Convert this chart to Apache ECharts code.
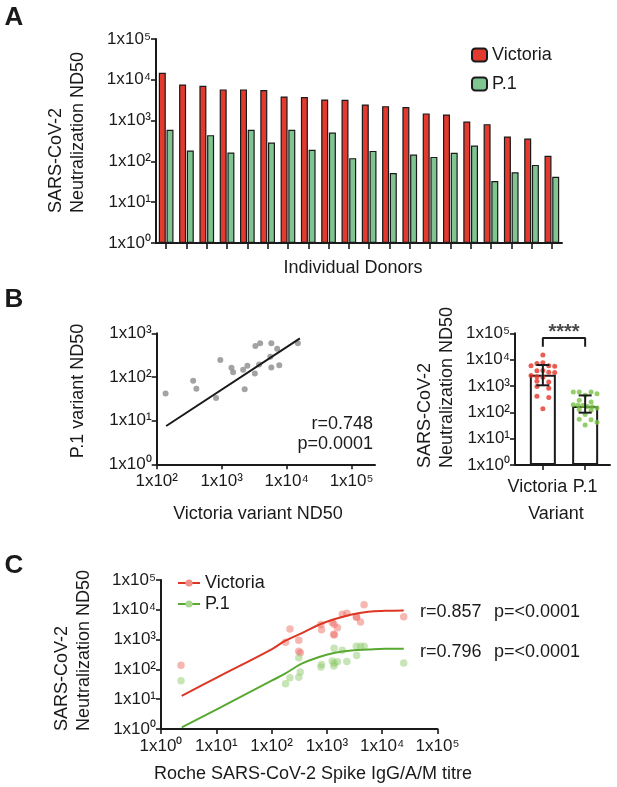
<!DOCTYPE html>
<html><head><meta charset="utf-8">
<script src="https://cdn.jsdelivr.net/npm/echarts@6/dist/echarts.min.js"></script>
<style>html,body{margin:0;padding:0;background:#fff}#c{width:617px;height:787px}</style>
</head><body><div id="c"></div>
<script>
// ---------- data ----------
const donors = ['D1','D2','D3','D4','D5','D6','D7','D8','D9','D10','D11','D12','D13','D14','D15','D16','D17','D18','D19','D20'];
const victoria = [14900, 7700, 7150, 5810, 5810, 5600, 3910, 3770, 3300, 3240, 2490, 2260, 2140, 1500, 1415, 952, 819, 408, 364, 137];
const p1 = [594, 185, 440, 165, 594, 290, 594, 192, 511, 120, 181, 52, 147, 129, 162, 245, 33, 54, 82, 42];
const rocheTitre = [4700, 2300, 1900, 24500, 3400, 3450, 4050, 1250, 1350, 780, 1550, 215, 800, 1330, 1360, 310, 179, 310, 330, 2.3];
// jitter columns of the dot plot
const victoriaCol = [0, 0, -1, 1, -2, 2, 0, -1, 1, 2, -2, -1, 0, -1, 1, -1, 1, -1, 1, 0];
const p1Col = [-1, -1.2, 0, 0.4, 1, -1, -2, -2, 2, 1, -0.4, 1, 2, -1, 1.2, 1, 0, -1, 0, 2];
const variants = ['Victoria', 'P.1'];
const barMeans = [2650, 175];
const errLow = [1060, 97];
const errHigh = [6240, 438];
const bracketLow = 31000, bracketHigh = 66000;
const scatterFit = [[140, 7.55], [16000, 768]];
const victoriaFit = [[2.37,12.9],[10,52],[100,470],[175,900],[400,1850],[700,3090],[1400,4900],[2800,6970],[5600,8570],[11200,9260],[24500,9550]];
const p1Fit = [[2.37,1.14],[10,4.5],[100,42],[175,72],[350,155],[700,257],[1400,360],[2800,430],[5600,464],[11200,490],[24500,490]];
const bTicks = [100, 1000, 10000, 100000];
const sup = ['\u2070','\u00b9','\u00b2','\u00b3','\u2074','\u2075'];

// ---------- helpers ----------
const font = "'Liberation Sans', Arial, Helvetica, sans-serif";
const ink = '#1a1a1a';
function powLabel(v){ const e = Math.round(Math.log10(v)); return '1x10' + sup[e]; }
const axLine = {show:true, onZero:false, lineStyle:{color:ink, width:2}};
const tickSt = {lineStyle:{color:ink, width:1.6}};
function logAxis(grid, min, max, extra){
  return Object.assign({
    type:'log', logBase:10, gridIndex:grid, min:min, max:max,
    axisLine:axLine,
    axisTick:Object.assign({show:true, length:5}, tickSt),
    axisLabel:{formatter:powLabel, fontSize:17, color:ink, fontFamily:font, margin:5, showMinLabel:true, showMaxLabel:true},
    splitLine:{show:false}
  }, extra||{});
}
function txt(x, y, text, o){
  o = o || {};
  const st = {text:text, fontSize:o.size||18, fontFamily:font, fontWeight:o.weight||'normal', fill:ink,
    align:o.align||'center', textAlign:o.align||'center', verticalAlign:'middle', textVerticalAlign:'middle', lineHeight:o.lh||22};
  return {type:'text', x:x, y:y, rotation:o.rot||0, style:st, z:10};
}

const chart = echarts.init(document.getElementById('c'));
const option = {
  animation:false,
  textStyle:{fontFamily:font},
  grid:[
    {left:156, top:39, width:406, height:204},
    {left:156.7, top:333.3, width:218.3, height:131},
    {left:515, top:333.3, width:95, height:131.7},
    {left:521.7, top:333.3, width:84.6, height:131.7},
    {left:161, top:580, width:276.5, height:149}
  ],
  xAxis:[
    {type:'category', gridIndex:0, data:donors, axisLine:axLine,
     axisTick:Object.assign({show:true, alignWithLabel:true, interval:0, length:6}, tickSt),
     axisLabel:{show:false, interval:0}, splitLine:{show:false}},
    logAxis(1, 100, 229000, {
      axisTick:Object.assign({show:true, length:5, customValues:bTicks}, tickSt),
      axisLabel:{formatter:powLabel, fontSize:17, color:ink, fontFamily:font, margin:9, customValues:bTicks}
    }),
    {type:'value', gridIndex:2, min:0, max:1, axisLine:axLine, axisTick:{show:false}, axisLabel:{show:false}, splitLine:{show:false}},
    {type:'category', gridIndex:3, data:variants, axisLine:{show:false},
     axisTick:Object.assign({show:true, alignWithLabel:true, interval:0, length:5}, tickSt),
     axisLabel:{fontSize:18, color:ink, fontFamily:font, margin:13, interval:0, hideOverlap:false,
       formatter:function(v, i){ return i === 0 ? '{l|' + v + '}' : '{r|' + v + '}'; },
       rich:{l:{fontSize:18, fontFamily:font, color:ink, padding:[0,11,0,0]}, r:{fontSize:18, fontFamily:font, color:ink}}},
     splitLine:{show:false}},
    {type:'value', gridIndex:3, min:0, max:2, show:false},
    logAxis(4, 1, 100000, {axisLabel:{formatter:powLabel, fontSize:17, color:ink, fontFamily:font, margin:9, showMinLabel:true, showMaxLabel:true}})
  ],
  yAxis:[
    logAxis(0, 1, 100000),
    logAxis(1, 1, 1000),
    logAxis(2, 1, 100000),
    {type:'log', gridIndex:3, min:1, max:100000, show:false},
    logAxis(4, 1, 100000)
  ],
  legend:[
    {orient:'vertical', left:466, top:41, itemWidth:15, itemHeight:13, itemGap:11,
     data:['Victoria','P.1'], textStyle:{fontSize:18, color:ink, fontFamily:font}},
    {orient:'vertical', left:172, top:569, itemWidth:22, itemHeight:9, itemGap:3,
     data:[{name:'cVictoria', itemStyle:{color:'#f29189'}}, {name:'cP1', itemStyle:{color:'#a9d790'}}],
     formatter:function(n){ return n === 'cVictoria' ? 'Victoria' : 'P.1'; },
     textStyle:{fontSize:18, color:ink, fontFamily:font}}
  ],
  series:[
    // Panel A
    {name:'Victoria', type:'bar', xAxisIndex:0, yAxisIndex:0, data:victoria, barWidth:7, barGap:'10%',
     itemStyle:{color:'#e23a2e', borderColor:'#1a1a1a', borderWidth:1.2}},
    {name:'P.1', type:'bar', xAxisIndex:0, yAxisIndex:0, data:p1, barWidth:7,
     itemStyle:{color:'#80c591', borderColor:'#1a1a1a', borderWidth:1.2}},
    // Panel B left
    {name:'corr', type:'scatter', xAxisIndex:1, yAxisIndex:1, symbolSize:6,
     data:victoria.map(function(v,i){return [v, p1[i]];}), itemStyle:{color:'#8c8c8c'}},
    {name:'corrFit', type:'line', xAxisIndex:1, yAxisIndex:1, data:scatterFit, symbol:'none',
     lineStyle:{color:ink, width:2}, z:3},
    // Panel B right
    {name:'gm', type:'bar', xAxisIndex:3, yAxisIndex:3, data:barMeans, barWidth:26,
     itemStyle:{color:'#ffffff', borderColor:ink, borderWidth:2}, z:2},
    {name:'dotsV', type:'scatter', xAxisIndex:4, yAxisIndex:3, symbolSize:5, z:3,
     data:victoria.map(function(v,i){return [0.5 + victoriaCol[i]*0.14, v];}), itemStyle:{color:'#e5352b'}},
    {name:'dotsP', type:'scatter', xAxisIndex:4, yAxisIndex:3, symbolSize:5, z:3,
     data:p1.map(function(v,i){return [1.5 + p1Col[i]*0.14, v];}), itemStyle:{color:'#79c143'}},
    {name:'err', type:'custom', xAxisIndex:3, yAxisIndex:3, z:4,
     data:variants.map(function(v,i){return [i, errLow[i], errHigh[i]];}),
     renderItem:function(params, api){
       const x = api.value(0);
       const a = api.coord([x, api.value(1)]), b = api.coord([x, api.value(2)]);
       const w = 6.5, st = {stroke:ink, lineWidth:2};
       return {type:'group', children:[
         {type:'line', shape:{x1:a[0], y1:a[1], x2:b[0], y2:b[1]}, style:st},
         {type:'line', shape:{x1:a[0]-w, y1:a[1], x2:a[0]+w, y2:a[1]}, style:st},
         {type:'line', shape:{x1:b[0]-w, y1:b[1], x2:b[0]+w, y2:b[1]}, style:st}
       ]};
     }},
    {name:'bracket', type:'line', xAxisIndex:4, yAxisIndex:3, symbol:'none',
     data:[[0.5, bracketLow],[0.5, bracketHigh],[1.5, bracketHigh],[1.5, bracketLow]],
     lineStyle:{color:ink, width:2}},
    {name:'stars', type:'scatter', xAxisIndex:4, yAxisIndex:3, symbolSize:1, itemStyle:{color:'rgba(0,0,0,0)'},
     data:[[1, bracketHigh]],
     label:{show:true, position:'top', distance:-5, formatter:'****', fontSize:20, fontWeight:'bold', color:ink, fontFamily:font}},
    // Panel C
    {name:'cVpts', type:'scatter', xAxisIndex:5, yAxisIndex:4, symbolSize:7.5,
     data:rocheTitre.map(function(r,i){return [r, victoria[i]];}), itemStyle:{color:'rgba(236,104,96,0.6)'}},
    {name:'cPpts', type:'scatter', xAxisIndex:5, yAxisIndex:4, symbolSize:7.5,
     data:rocheTitre.map(function(r,i){return [r, p1[i]];}), itemStyle:{color:'rgba(140,200,105,0.6)'}},
    {name:'cVictoria', type:'line', xAxisIndex:5, yAxisIndex:4, data:victoriaFit, smooth:0.4,
     symbol:'circle', showSymbol:false, itemStyle:{color:'#f29189'}, lineStyle:{color:'#dd3624', width:2}, z:4},
    {name:'cP1', type:'line', xAxisIndex:5, yAxisIndex:4, data:p1Fit, smooth:0.4,
     symbol:'circle', showSymbol:false, itemStyle:{color:'#a9d790'}, lineStyle:{color:'#58a931', width:2}, z:4}
  ],
  graphic:{elements:[
    txt(14, 18, 'A', {size:26, weight:'bold'}),
    txt(14, 300, 'B', {size:26, weight:'bold'}),
    txt(14, 566, 'C', {size:26, weight:'bold'}),
    txt(67, 213, 'SARS-CoV-2\nNeutralization ND50', {rot:Math.PI/2, align:'left'}),
    txt(353, 268, 'Individual Donors'),
    txt(78, 391, 'P.1 variant ND50', {rot:Math.PI/2}),
    txt(258, 514, 'Victoria variant ND50'),
    txt(373, 424, 'r=0.748', {align:'right'}),
    txt(373, 444, 'p=0.0001', {align:'right'}),
    txt(436, 468, 'SARS-CoV-2\nNeutralization ND50', {rot:Math.PI/2, align:'left'}),
    txt(556, 514, 'Variant'),
    txt(73, 731, 'SARS-CoV-2\nNeutralization ND50', {rot:Math.PI/2, align:'left'}),
    txt(313, 774, 'Roche SARS-CoV-2 Spike IgG/A/M titre'),
    txt(420, 612, 'r=0.857', {align:'left'}),
    txt(494, 612, 'p=<0.0001', {align:'left'}),
    txt(420, 652, 'r=0.796', {align:'left'}),
    txt(494, 652, 'p=<0.0001', {align:'left'})
  ]}
};
chart.setOption(option);
</script>
</body></html>
